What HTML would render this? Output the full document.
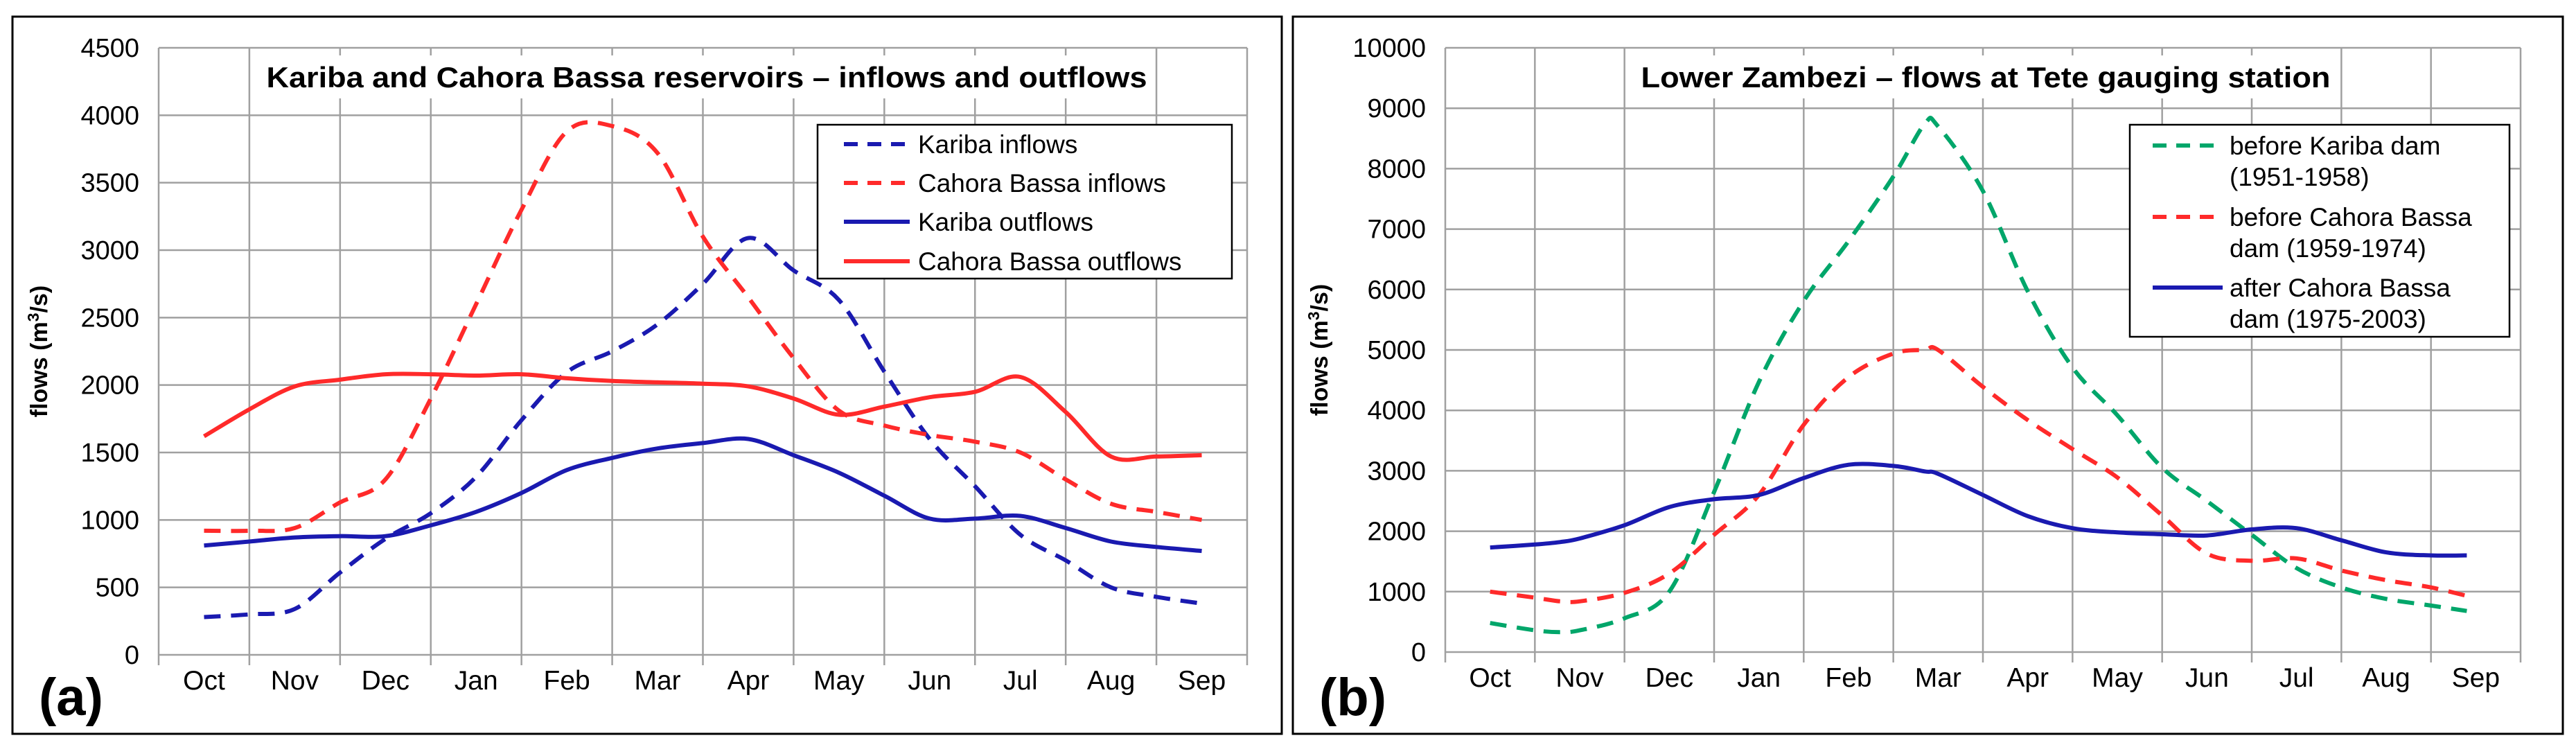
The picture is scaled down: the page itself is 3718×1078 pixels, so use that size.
<!DOCTYPE html>
<html><head><meta charset="utf-8"><style>
body{margin:0;background:#fff}
svg{display:block}
text{font-family:"Liberation Sans",Arial,sans-serif}
</style></head><body>
<svg id="c" width="3718" height="1078" viewBox="0 0 3718 1078" xmlns="http://www.w3.org/2000/svg"></svg>
<script>
const months=["Oct","Nov","Dec","Jan","Feb","Mar","Apr","May","Jun","Jul","Aug","Sep"];
// Panel (a) data at half-month steps (index 0 = mid Oct)
const tA=[0,0.5,1,1.5,2,2.5,3,3.5,4,4.5,5,5.5,6,6.5,7,7.5,8,8.5,9,9.5,10,10.5,11];
const karibaIn=[280,300,340,610,860,1050,1320,1740,2095,2250,2450,2750,3090,2850,2630,2100,1600,1250,890,700,500,430,380];
const cahoraIn=[920,920,940,1130,1300,1900,2600,3300,3880,3920,3720,3100,2650,2200,1810,1700,1630,1580,1500,1300,1120,1060,1000];
const karibaOut=[810,840,870,880,880,960,1060,1200,1370,1460,1530,1570,1600,1480,1350,1180,1010,1010,1030,940,840,800,770];
const cahoraOut=[1620,1820,1990,2040,2080,2080,2070,2080,2050,2030,2020,2010,1990,1900,1780,1840,1910,1950,2060,1800,1470,1470,1480];
const yTicksA=[0,500,1000,1500,2000,2500,3000,3500,4000,4500];
// Panel (b) data
const tB=[0,0.5,0.78,1,1.5,2,2.5,3,3.5,4,4.5,4.85,5,5.5,6,6.5,7,7.5,8,8.5,9,9.5,10,10.5,10.9];
const greenB=[480,360,330,360,560,1000,2650,4470,5810,6800,7870,8740,8700,7630,5970,4710,3920,3050,2500,1940,1390,1070,880,770,680];
const redB=[1000,900,840,840,980,1300,1940,2600,3760,4550,4940,5000,5000,4390,3840,3360,2890,2260,1630,1510,1550,1350,1190,1070,930];
const blueB=[1730,1780,1820,1880,2100,2400,2530,2600,2880,3100,3080,2990,2950,2600,2250,2050,1980,1950,1930,2030,2050,1850,1650,1600,1600];
const yTicksB=[0,1000,2000,3000,4000,5000,6000,7000,8000,9000,10000];

const NS="http://www.w3.org/2000/svg";
const svg=document.getElementById('c');
function mk(tag,attrs,parent,txt){const e=document.createElementNS(NS,tag);for(const k in attrs)e.setAttribute(k,attrs[k]);if(txt!==undefined)e.textContent=txt;(parent||svg).appendChild(e);return e;}
function smooth(pts){
  let d='M'+pts[0][0].toFixed(1)+','+pts[0][1].toFixed(1);
  for(let i=0;i<pts.length-1;i++){
    const p0=pts[Math.max(0,i-1)],p1=pts[i],p2=pts[i+1],p3=pts[Math.min(pts.length-1,i+2)];
    const c1x=p1[0]+(p2[0]-p0[0])/6,c1y=p1[1]+(p2[1]-p0[1])/6;
    const c2x=p2[0]-(p3[0]-p1[0])/6,c2y=p2[1]-(p3[1]-p1[1])/6;
    d+=` C${c1x.toFixed(1)},${c1y.toFixed(1)} ${c2x.toFixed(1)},${c2y.toFixed(1)} ${p2[0].toFixed(1)},${p2[1].toFixed(1)}`;
  }
  return d;
}

function panel(o){
  const g=mk('g',{});
  
  
  const fr=mk('rect',{x:o.fx,y:24,width:o.fw,height:1035,fill:'none',stroke:'#000','stroke-width':3},g);
  
  const L=o.L,R=o.R,T=o.T,B=o.B,cw=(R-L)/12;
  const ys=v=>B-(v/o.ymax)*(B-T);
  const xs=t=>L+cw*(t+0.5);
  o.yt.forEach(v=>{
    const l=mk('line',{x1:L,x2:R,y1:ys(v),y2:ys(v),stroke:'#a0a0a0','stroke-width':2.5},g);
    
    const t=mk('text',{x:L-28,y:ys(v)+13,'text-anchor':'end','font-size':38},g,String(v));
    
  });
  for(let i=0;i<=12;i++){
    const x=L+cw*i;
    const l=mk('line',{x1:x,x2:x,y1:T,y2:B+15,stroke:'#a0a0a0','stroke-width':2.5},g);
    
  }
  months.forEach((m,i)=>{
    const t=mk('text',{x:xs(i),y:B+50,'text-anchor':'middle','font-size':39},g,m);
    
  });
  const yl=mk('text',{transform:`translate(${o.fx+50},${(T+B)/2}) rotate(-90)`,'text-anchor':'middle','font-size':34,'font-weight':'bold'},g);
  
  mk('tspan',{},yl,'flows (m');mk('tspan',{dy:-12,'font-size':23},yl,'3');mk('tspan',{dy:12},yl,'/s)');
  const pl=mk('text',{x:o.fx+38,y:1032,'font-size':76,'font-weight':'bold'},g,o.label);
  
  const tb=mk('rect',{x:o.tx-o.tw/2-10,y:80,width:o.tw+20,height:62,fill:'#fff'},g);
  
  const ti=mk('text',{x:o.tx,y:126,'text-anchor':'middle','font-size':42,'font-weight':'bold',textLength:o.tw,lengthAdjust:'spacingAndGlyphs'},g,o.title);
  
  o.series.forEach(s=>{
    const pts=s.v.map((v,i)=>[xs(s.t[i]),ys(v)]);
    const p=mk('path',{d:smooth(pts),fill:'none',stroke:s.c,'stroke-width':6,'stroke-linejoin':'round','stroke-dasharray':s.dash?'24 15':'none'},g);
    
  });
  const lg=mk('g',{},g);
  
  mk('rect',{x:o.lg.x,y:o.lg.y,width:o.lg.w,height:o.lg.h,fill:'#fff',stroke:'#000','stroke-width':2.5},lg);
  o.series.forEach((s,i)=>{
    const e=mk('g',{},lg);
    
    const y=o.lg.rows[i];
    mk('line',{x1:o.lg.lx1,x2:o.lg.lx2,y1:y,y2:y,stroke:s.c,'stroke-width':6,'stroke-dasharray':s.dash?'20 14':'none'},e);
    s.lbl.forEach((ln,j)=>mk('text',{x:o.lg.tx,y:y+13+j*45,'font-size':37},e,ln));
  });
}

panel({name:'panel-a',fx:18,fw:1832,L:229,R:1800,T:69,B:945,ymax:4500,yt:yTicksA,label:'(a)',
  title:'Kariba and Cahora Bassa reservoirs – inflows and outflows',tx:1020,tw:1271,
  series:[
    {name:'kariba-inflows-line',t:tA,v:karibaIn,c:'#1a1ab0',dash:true,lbl:['Kariba inflows']},
    {name:'cahora-bassa-inflows-line',t:tA,v:cahoraIn,c:'#ff2a2a',dash:true,lbl:['Cahora Bassa inflows']},
    {name:'kariba-outflows-line',t:tA,v:karibaOut,c:'#1a1ab0',dash:false,lbl:['Kariba outflows']},
    {name:'cahora-bassa-outflows-line',t:tA,v:cahoraOut,c:'#ff2a2a',dash:false,lbl:['Cahora Bassa outflows']}],
  lg:{x:1180,y:180,w:598,h:222,lx1:1218,lx2:1313,tx:1325,rows:[208,264,320,377]}});

panel({name:'panel-b',fx:1866,fw:1833,L:2086,R:3638,T:69,B:941,ymax:10000,yt:yTicksB,label:'(b)',
  title:'Lower Zambezi – flows at Tete gauging station',tx:2866,tw:995,
  series:[
    {name:'before-kariba-line',t:tB,v:greenB,c:'#00a66a',dash:true,lbl:['before Kariba dam','(1951-1958)']},
    {name:'before-cahora-bassa-line',t:tB,v:redB,c:'#ff2a2a',dash:true,lbl:['before Cahora Bassa','dam (1959-1974)']},
    {name:'after-cahora-bassa-line',t:tB,v:blueB,c:'#1a1ab0',dash:false,lbl:['after Cahora Bassa','dam (1975-2003)']}],
  lg:{x:3074,y:180,w:548,h:306,lx1:3107,lx2:3208,tx:3218,rows:[210,313,415]}});
</script>
</body></html>
